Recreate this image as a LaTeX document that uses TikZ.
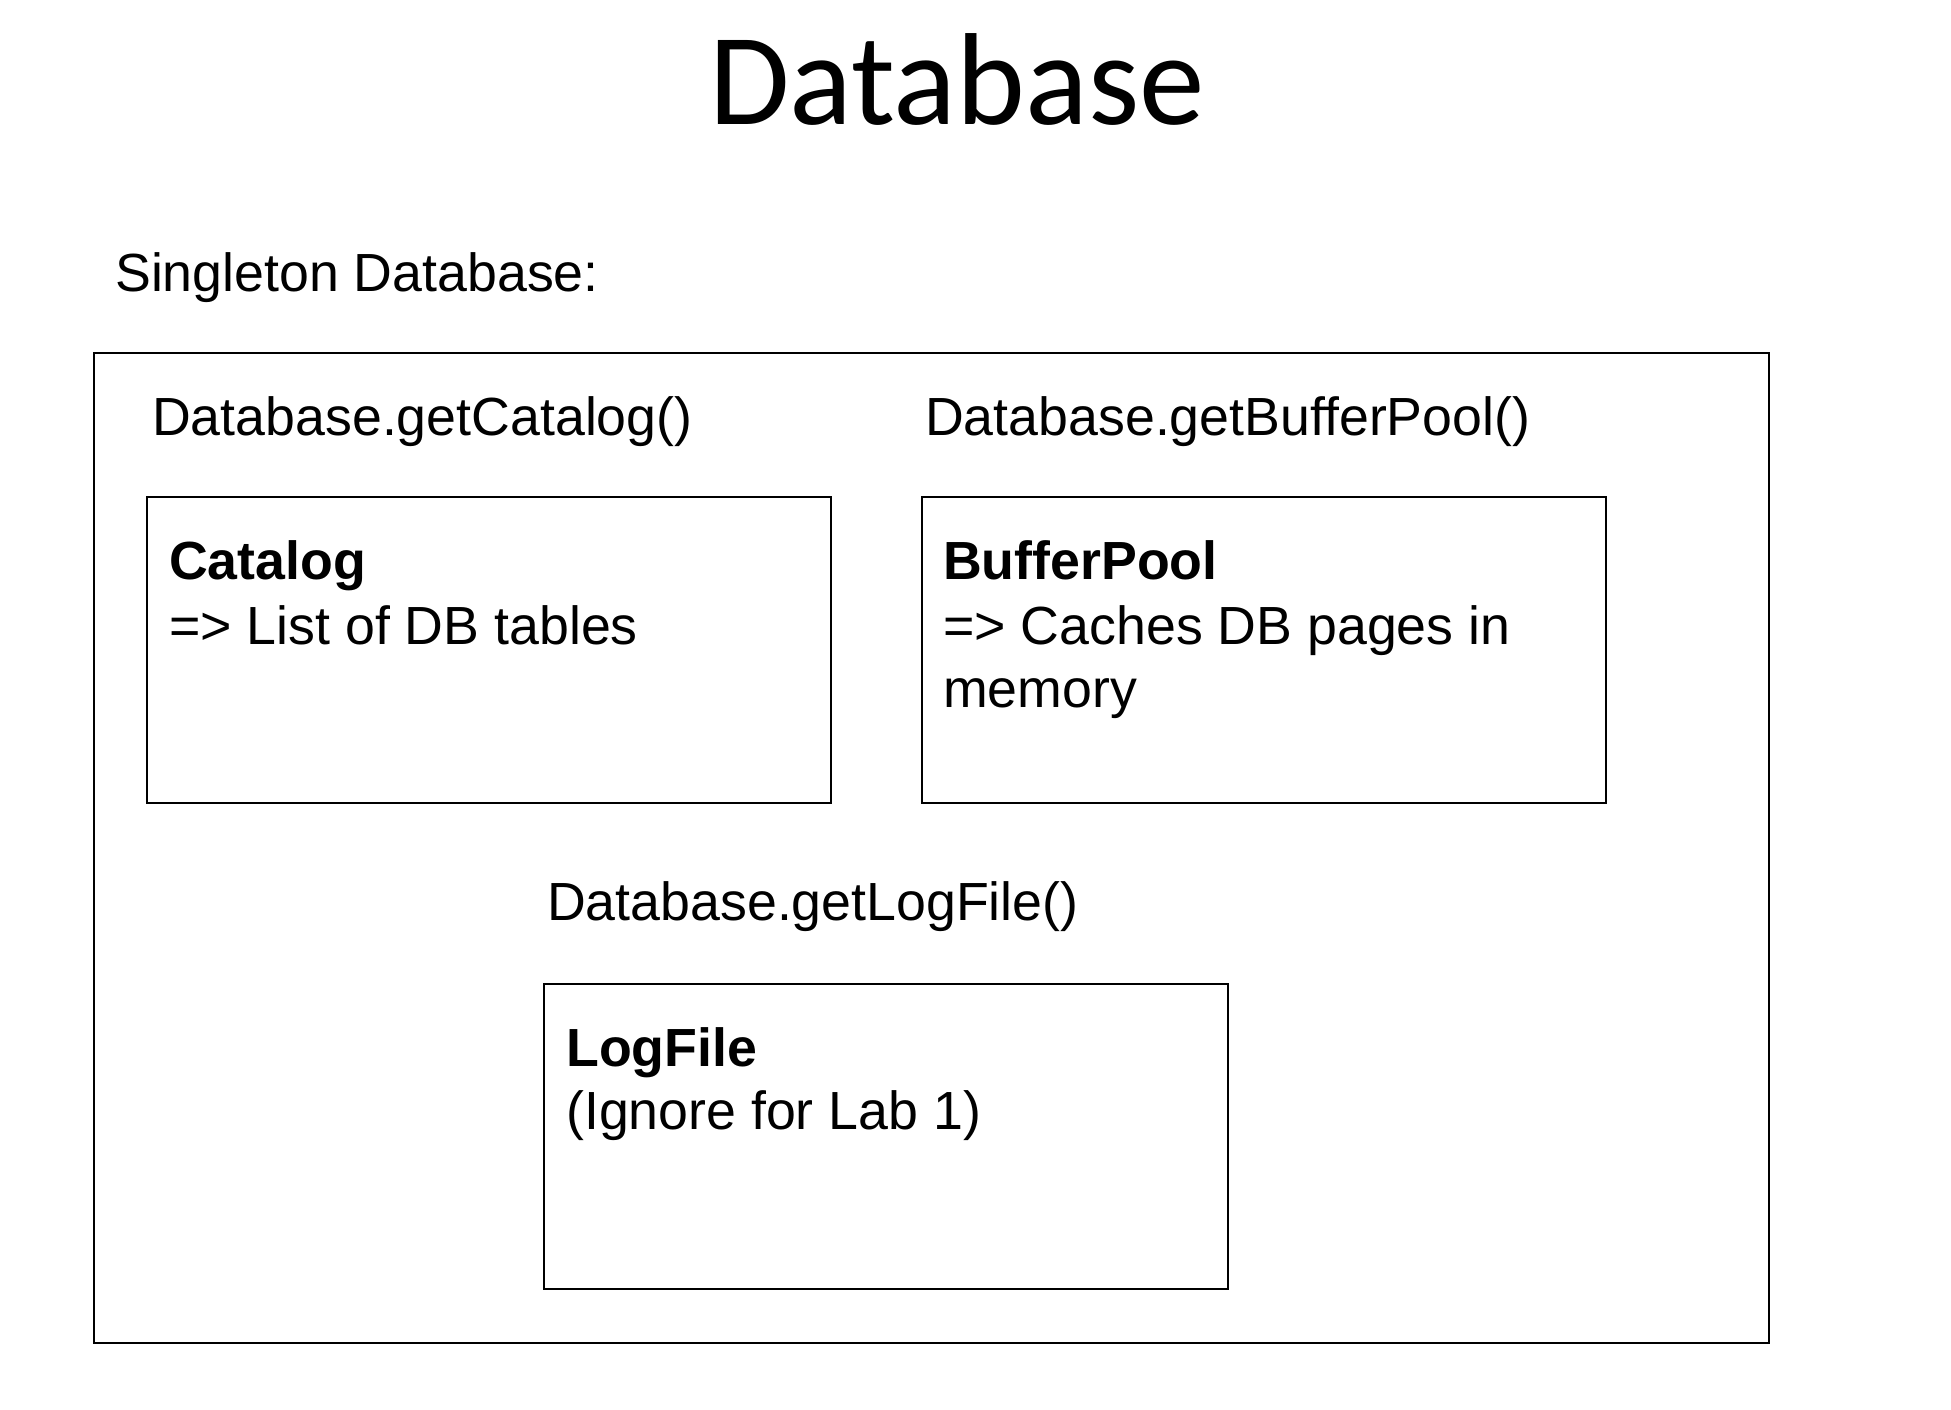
\documentclass[tikz,border=0pt]{standalone}
\usepackage{fontspec}
\setmainfont{Liberation Sans}
\newfontfamily\titlefont{Carlito}
\begin{document}
\begin{tikzpicture}[x=1pt,y=-1pt,
  box/.style={draw=black,line width=2pt,rectangle,anchor=north west,inner sep=0pt},
  lbl/.style={anchor=base west,inner sep=0pt,font=\fontsize{53.7}{64}\selectfont},
  blbl/.style={lbl,font=\fontsize{53.7}{64}\selectfont\bfseries}]
\useasboundingbox[fill=white] (0,0) rectangle (1951,1409);
\node[anchor=base,inner sep=0pt,font=\titlefont\fontsize{131}{156}\selectfont] (title) at (957,124) {Database};
\node[lbl] (single) at (115,291) {Singleton Database:};
\node[box,minimum width=1675pt,minimum height=990pt] (outer) at (92.5,352) {};
\node[lbl] (getcat) at (152,435) {Database.getCatalog()};
\node[lbl] (getbuf) at (925,435) {Database.getBufferPool()};
\node[lbl] (getlog) at (547,920) {Database.getLogFile()};
\node[box,minimum width=684pt,minimum height=306pt] (catbox) at (146,496) {};
\node[box,minimum width=684pt,minimum height=306pt] (bufbox) at (921,496) {};
\node[box,minimum width=684pt,minimum height=305pt] (logbox) at (542.5,983) {};
\node[blbl] (cat1) at (169,579) {Catalog};
\node[lbl] (cat2) at (169,644) {=> List of DB tables};
\node[blbl] (buf1) at (943,579) {BufferPool};
\node[lbl] (buf2) at (943,644) {=> Caches DB pages in};
\node[lbl] (buf3) at (943,707) {memory};
\node[blbl] (log1) at (566,1066) {LogFile};
\node[lbl] (log2) at (566,1129) {(Ignore for Lab 1)};
\end{tikzpicture}
\end{document}
